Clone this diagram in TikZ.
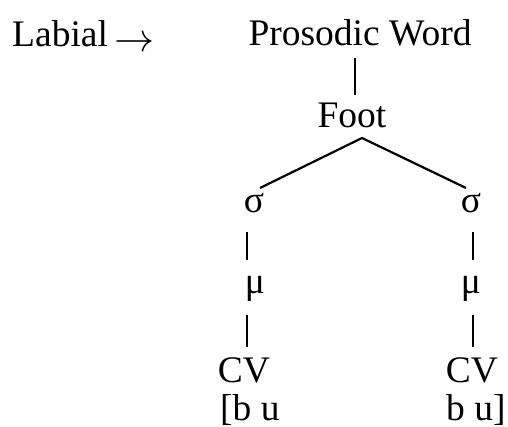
\documentclass[tikz,border=0pt]{standalone}
\usepackage{fontspec}
\setmainfont{Liberation Serif}
\usetikzlibrary{calc}

\begin{document}
\begin{tikzpicture}[x=1pt,y=-1pt,
  lbl/.style={inner sep=0pt, anchor=base, font=\fontsize{37.5}{40}\selectfont},
  lblw/.style={lbl, anchor=base west},
  branch/.style={line width=2.2pt}]
  \useasboundingbox (0,0) rectangle (508,427);

  % labels of the prosodic tree
  \node[lblw] (rule) at (12,47) {Labial\hspace{7pt}\raisebox{-5pt}{\resizebox{40pt}{!}{$\rightarrow$}}};
  \node[lbl] (pw)   at (360,46) {Prosodic Word};
  \node[lbl] (foot) at (352,128) {Foot};
  \node[lbl] (s1)   at (254,213) {σ};
  \node[lbl] (s2)   at (471,213) {σ};
  \node[lbl] (m1)   at (255,294) {μ};
  \node[lbl] (m2)   at (471,294) {μ};
  \node[lbl] (cv1)  at (244,382) {CV};
  \node[lbl] (cv2)  at (472,382) {CV};
  \node[lblw] (seg1) at (220,420) {[b u};
  \node[lblw] (seg2) at (446,420) {b u]};

  % branches
  \draw[branch] ($(pw.base)+(-5,12)$) -- ($(foot.base)+(3,-33)$);
  \draw[branch] ($(s1.base)+(6,-25)$) -- ($(foot.base)+(10,10)$) -- ($(s2.base)+(-5,-25)$);
  \draw[branch] ($(s1.base)+(-7,19)$) -- ($(m1.base)+(-8,-34)$);
  \draw[branch] ($(s2.base)+(2,19)$) -- ($(m2.base)+(2,-34)$);
  \draw[branch] ($(m1.base)+(-8,21)$) -- ($(cv1.base)+(3,-35)$);
  \draw[branch] ($(m2.base)+(2,21)$) -- ($(cv2.base)+(1,-35)$);
\end{tikzpicture}
\end{document}
